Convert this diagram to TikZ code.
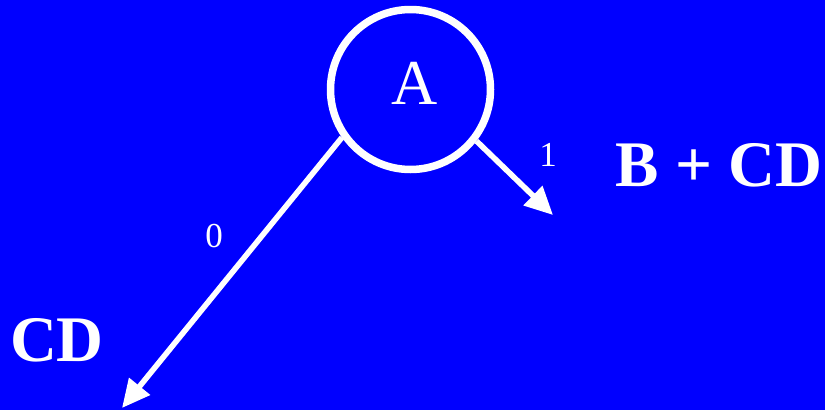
\documentclass[tikz,border=0pt]{standalone}
\usepackage{fontspec}
\setmainfont{Liberation Serif}
\usetikzlibrary{arrows.meta}

\begin{document}
\begin{tikzpicture}[
  x=1pt, y=-1pt,
  line cap=butt, line join=miter,
  branch/.style={draw=white, line width=5.6pt, -{Triangle[length=28pt,width=26pt]}},
  rootnode/.style={circle, draw=white, line width=7.5pt, minimum size=160pt, inner sep=0pt},
  rootlabel/.style={text=white, inner sep=0pt, font=\fontsize{64pt}{64pt}\selectfont},
  bitlabel/.style={text=white, inner sep=0pt, font=\fontsize{35pt}{35pt}\selectfont},
  outcome/.style={text=white, inner sep=0pt, font=\fontsize{65pt}{65pt}\selectfont\bfseries}
]
  % ---- background ----
  \fill[blue] (0,0) rectangle (825,410);
  \useasboundingbox (0,0) rectangle (825,410);
  % ---- root ----
  \node[rootnode] (A) at (410.5,89.5) {};
  \node[rootlabel] (Alabel) at (415,83) {A};
  % ---- arrow ends ----
  \coordinate (tip0) at (122,408);
  \coordinate (tip1) at (553,215);
  % ---- branches ----
  \draw[branch] (A.215) -- (tip0);
  \draw[branch] (A.322) -- (tip1);
  % ---- labels ----
  \node[bitlabel] (l0) at (214,236) {0};
  \node[bitlabel] (l1) at (548,155) {1};
  \node[outcome] (cd) at (57,340) {CD};
  \node[outcome] (bcd) at (719,165) {B + CD};
\end{tikzpicture}
\end{document}
